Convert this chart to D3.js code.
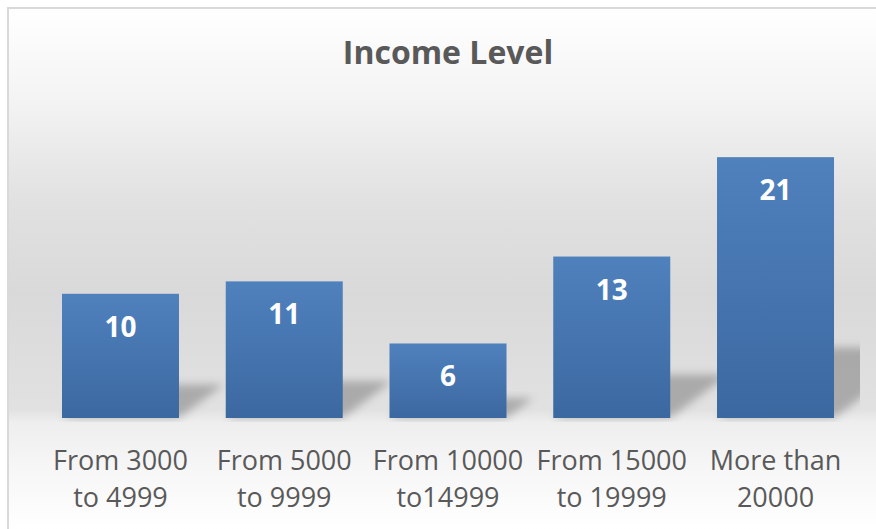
<!DOCTYPE html>
<html>
<head>
<meta charset="utf-8">
<script src="https://cdn.jsdelivr.net/npm/d3@7"></script>
<style>
  html, body { margin: 0; padding: 0; background: #ffffff; }
  svg { display: block; }
</style>
</head>
<body>
<svg id="chart" width="876" height="529"></svg>
<script>
const titleText = "Income Level";
const categories = [
  ["From 3000", "to 4999"],
  ["From 5000", "to 9999"],
  ["From 10000", "to14999"],
  ["From 15000", "to 19999"],
  ["More than", "20000"]
];
const values = [10, 11, 6, 13, 21];
const yDomain = [0, 25];

const W = 876, H = 529;
const svg = d3.select("#chart");
const defs = svg.append("defs");

// background gradient
const bg = defs.append("linearGradient").attr("id", "bg")
  .attr("gradientUnits", "userSpaceOnUse").attr("x1", 0).attr("x2", 0).attr("y1", 8).attr("y2", 529);
[[0, "#ffffff"], [0.17, "#f4f4f4"], [0.37, "#e1e1e1"], [0.55, "#d9d9d9"], [0.77, "#e1e1e1"],
 [0.795, "#eeeeee"], [0.88, "#f6f6f6"], [1, "#ffffff"]]
  .forEach(([o, c]) => bg.append("stop").attr("offset", o).attr("stop-color", c));

const barGrad = defs.append("linearGradient").attr("id", "barGrad")
  .attr("x1", 0).attr("x2", 0).attr("y1", 0).attr("y2", 1);
barGrad.append("stop").attr("offset", 0).attr("stop-color", "#4f81bd");
barGrad.append("stop").attr("offset", 1).attr("stop-color", "#3c68a0");

const blur = defs.append("filter").attr("id", "blur")
  .attr("x", "-30%").attr("y", "-30%").attr("width", "160%").attr("height", "160%");
blur.append("feGaussianBlur").attr("stdDeviation", 4.5);

defs.append("clipPath").attr("id", "plotClip")
  .append("rect").attr("x", 30).attr("y", 100).attr("width", 830).attr("height", 322);

svg.append("rect").attr("x", 8).attr("y", 8).attr("width", 900).attr("height", 560)
  .attr("fill", "url(#bg)").attr("stroke", "#d9d9d9").attr("stroke-width", 2);

const x = d3.scaleBand().domain(d3.range(values.length))
  .range([38.6, 857.4]).paddingInner(0.2855).paddingOuter(0.1428);
const y = d3.scaleLinear().domain(yDomain).range([418, 107.5]);

// shadows
const shadowG = svg.append("g").attr("clip-path", "url(#plotClip)");
shadowG.selectAll("polygon").data(values).join("polygon")
  .attr("points", (d, i) => {
    const x0 = x(i), x1 = x(i) + x.bandwidth();
    const h = y(0) - y(d);
    const sh = h * 0.27, dx = h * 0.36;
    const b = y(0);
    return [[x0, b], [x1, b], [x1 + dx, b - sh], [x0 + dx, b - sh]].map(p => p.join(",")).join(" ");
  })
  .attr("fill", "#000").attr("fill-opacity", 0.24).attr("filter", "url(#blur)");

// bars
svg.append("g").selectAll("rect").data(values).join("rect")
  .attr("x", (d, i) => x(i)).attr("width", x.bandwidth())
  .attr("y", d => y(d)).attr("height", d => y(0) - y(d))
  .attr("fill", "url(#barGrad)");

// value labels
svg.append("g").selectAll("text").data(values).join("text")
  .attr("x", (d, i) => x(i) + x.bandwidth() / 2)
  .attr("y", d => y(d) + 43)
  .attr("text-anchor", "middle")
  .attr("font-family", "'Open Sans', sans-serif").attr("font-weight", "bold")
  .attr("font-size", 28).attr("fill", "#ffffff")
  .text(d => d);

// category labels
const cat = svg.append("g").selectAll("text").data(categories).join("text")
  .attr("text-anchor", "middle")
  .attr("font-family", "'Open Sans', sans-serif")
  .attr("font-size", 27).attr("fill", "#595959");
cat.each(function(d, i) {
  const t = d3.select(this);
  d.forEach((line, k) => {
    t.append("tspan").attr("x", x(i) + x.bandwidth() / 2).attr("y", 470 + k * 37).text(line);
  });
});

// title
svg.append("text").attr("x", 448).attr("y", 64).attr("text-anchor", "middle")
  .attr("font-family", "'Open Sans', sans-serif").attr("font-weight", "bold")
  .attr("font-size", 32).attr("fill", "#595959").text(titleText);
</script>
</body>
</html>
